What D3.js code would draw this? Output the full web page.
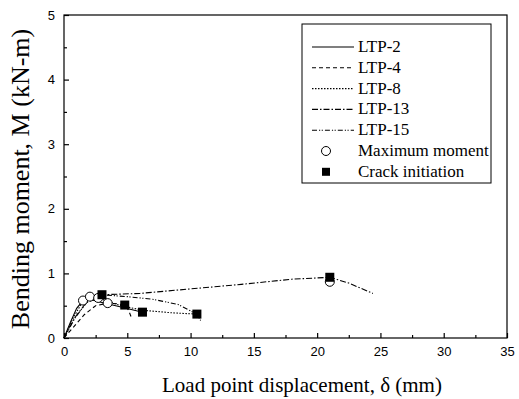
<!DOCTYPE html>
<html>
<head>
<meta charset="utf-8">
<script src="https://cdn.jsdelivr.net/npm/d3@7"></script>
<style>
  body { margin: 0; background: #fff; }
  svg { display: block; }
</style>
</head>
<body>
<svg></svg>
<script>
const size = {w: 519, h: 399};
const margins = {t: 15, r: 12, b: 61, l: 64};

// series: [displacement (mm), moment (kN-m)]
const ltp2  = [[0,0],[0.5,0.24],[1.0,0.46],[1.5,0.58],[2.0,0.6],[3.0,0.55],[4.5,0.48],[6.2,0.40]];
const ltp4  = [[0,0],[0.8,0.18],[1.6,0.36],[2.5,0.5],[3.45,0.54],[4.2,0.53],[4.8,0.51],[5.1,0.43],[5.3,0.33]];
const ltp8  = [[0,0],[0.7,0.3],[1.4,0.54],[2.05,0.64],[3.0,0.6],[4.5,0.5],[6.2,0.43],[8.5,0.39],[10.5,0.37],[10.8,0.27]];
const ltp13 = [[0,0],[0.8,0.3],[1.8,0.56],[3.0,0.67],[6,0.69],[10,0.76],[14,0.83],[18,0.91],[21,0.94],[22.5,0.85],[24.4,0.69]];
const ltp15 = [[0,0],[0.9,0.32],[1.8,0.55],[2.7,0.62],[3.0,0.67],[5,0.64],[7,0.6],[9,0.52],[10.5,0.37]];

const seriesNames = ['LTP-2', 'LTP-4', 'LTP-8', 'LTP-13', 'LTP-15'];
const seriesData = [ltp2, ltp4, ltp8, ltp13, ltp15];
const dashes = [null, '4,3', '1.5,1.5', '6,2,1.5,2', '5,2,1.2,1.5,1.2,2'];

const maxMoment = [[1.5,0.58],[2.05,0.64],[2.7,0.62],[3.45,0.54],[21,0.87]];
const crackInit = [[3.0,0.67],[4.8,0.51],[6.2,0.40],[10.5,0.37],[21,0.94]];

const xTicks = [0, 5, 10, 15, 20, 25, 30, 35];
const yTicks = [0, 1, 2, 3, 4, 5];

const svg = d3.select('svg')
    .attr('width', size.w)
    .attr('height', size.h);

const x = d3.scaleLinear().domain([0, 35]).range([margins.l, size.w - margins.r]);
const y = d3.scaleLinear().domain([0, 5]).range([size.h - margins.b, margins.t]);

// frame
svg.append('rect')
    .attr('x', x(0)).attr('y', y(5))
    .attr('width', x(35) - x(0)).attr('height', y(0) - y(5))
    .attr('fill', 'none').attr('stroke', '#000').attr('stroke-width', 1.2);

// axes, ticks inside
svg.append('g')
    .attr('transform', `translate(0, ${y(0)})`)
    .call(d3.axisBottom(x).tickValues(xTicks).tickSize(-5).tickPadding(9).tickFormat(d3.format('d')));
svg.append('g')
    .attr('transform', `translate(0, ${y(0)})`)
    .call(d3.axisBottom(x).tickValues(d3.range(2.5, 35, 5)).tickSize(-3).tickFormat(''));

svg.append('g')
    .attr('transform', `translate(${x(0)}, 0)`)
    .call(d3.axisLeft(y).tickValues(yTicks).tickSize(-5).tickPadding(9).tickFormat(d3.format('d')));
svg.append('g')
    .attr('transform', `translate(${x(0)}, 0)`)
    .call(d3.axisLeft(y).tickValues(d3.range(0.5, 5, 1)).tickSize(-3).tickFormat(''));

svg.selectAll('.domain').remove();
svg.selectAll('.tick line').attr('stroke', '#000').attr('stroke-width', 1.2);
svg.selectAll('.tick text')
    .attr('fill', '#000')
    .style('font-family', 'Liberation Sans, Arial, sans-serif')
    .style('font-size', '13px');

// axis titles
svg.append('text')
    .attr('x', 302)
    .attr('y', 392)
    .attr('text-anchor', 'middle')
    .style('font-family', 'Liberation Serif, Times New Roman, serif')
    .style('font-size', '21px')
    .text('Load point displacement, δ (mm)');

svg.append('text')
    .attr('transform', `translate(29, 179) rotate(-90)`)
    .attr('text-anchor', 'middle')
    .style('font-family', 'Liberation Serif, Times New Roman, serif')
    .style('font-size', '26px')
    .text('Bending moment, M (kN-m)');

// curves
const line = d3.line().x(d => x(d[0])).y(d => y(d[1]));

svg.append('g').selectAll('path')
    .data(seriesData)
    .join('path')
    .attr('d', line)
    .attr('fill', 'none')
    .attr('stroke', '#000')
    .attr('stroke-width', 1.1)
    .attr('stroke-dasharray', (d, i) => dashes[i]);

// markers
svg.append('g').selectAll('circle')
    .data(maxMoment)
    .join('circle')
    .attr('cx', d => x(d[0]))
    .attr('cy', d => y(d[1]))
    .attr('r', 4.5)
    .attr('fill', '#fff')
    .attr('stroke', '#000');

svg.append('g').selectAll('rect')
    .data(crackInit)
    .join('rect')
    .attr('x', d => x(d[0]) - 4.5)
    .attr('y', d => y(d[1]) - 4.5)
    .attr('width', 9)
    .attr('height', 9)
    .attr('fill', '#000');

// legend
const legend = svg.append('g').attr('transform', 'translate(302, 24)');
legend.append('rect')
    .attr('width', 189).attr('height', 159)
    .attr('fill', '#fff').attr('stroke', '#000').attr('stroke-width', 1);

const rowY = i => 23 + i * 20.8;
const legendFont = sel => sel
    .style('font-family', 'Liberation Serif, Times New Roman, serif')
    .style('font-size', '17px');

seriesNames.forEach((name, i) => {
    legend.append('line')
        .attr('x1', 10).attr('x2', 52)
        .attr('y1', rowY(i)).attr('y2', rowY(i))
        .attr('stroke', '#000').attr('stroke-width', 1.1)
        .attr('stroke-dasharray', dashes[i]);
    legend.append('text')
        .attr('x', 56).attr('y', rowY(i) + 5)
        .call(legendFont)
        .text(name);
});

legend.append('circle')
    .attr('cx', 24).attr('cy', rowY(5)).attr('r', 4.5)
    .attr('fill', '#fff').attr('stroke', '#000');
legend.append('text')
    .attr('x', 56).attr('y', rowY(5) + 5)
    .call(legendFont)
    .text('Maximum moment');

legend.append('rect')
    .attr('x', 20).attr('y', rowY(6) - 4).attr('width', 8).attr('height', 8)
    .attr('fill', '#000');
legend.append('text')
    .attr('x', 56).attr('y', rowY(6) + 5)
    .call(legendFont)
    .text('Crack initiation');
</script>
</body>
</html>
